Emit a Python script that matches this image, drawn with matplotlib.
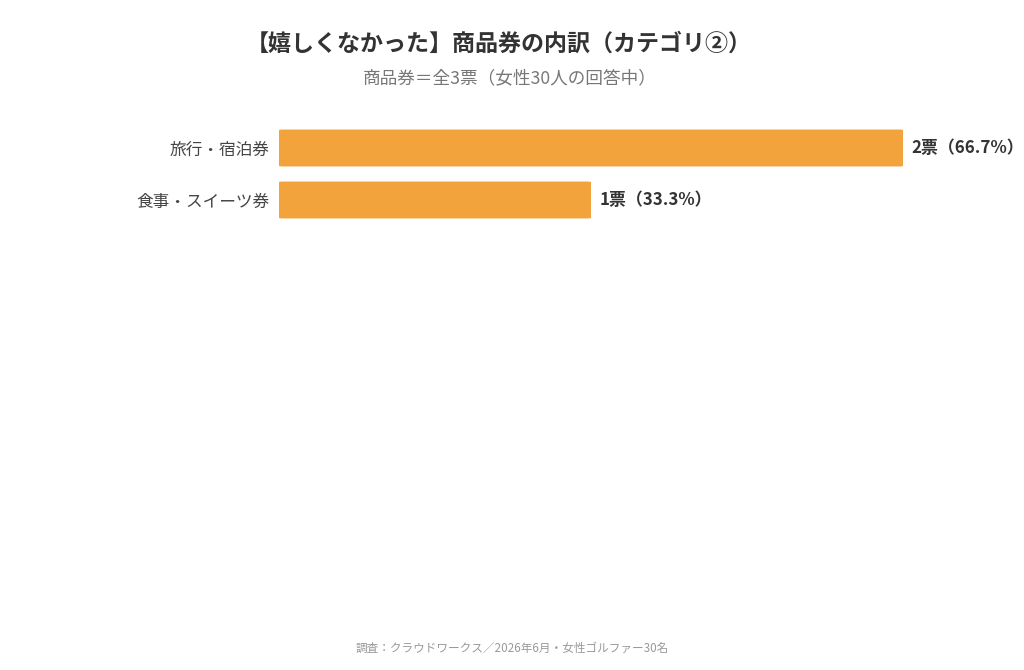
import matplotlib
matplotlib.use("Agg")
import matplotlib.pyplot as plt
from matplotlib.patches import FancyBboxPatch

plt.rcParams['font.family'] = ['Noto Sans CJK JP', 'DejaVu Sans']

categories = ['旅行・宿泊券', '食事・スイーツ券']
votes = [2, 1]
pcts = [66.7, 33.3]
bar_color = '#F2A33C'

fig = plt.figure(figsize=(10.24, 6.7), dpi=100)
W, H = 1024, 670
# axes box in pixels: x 279..903, y 122..226 (from top)
ax = fig.add_axes([279 / W, 1 - 226 / H, 624 / W, 104 / H])

bars = ax.barh(range(len(categories)), votes, height=0.71, color=bar_color)
ax.set_xlim(0, 2)
ax.set_ylim(1.5, -0.5)

# swap plain bars for slightly rounded ones
for b in bars:
    x, y = b.get_x(), b.get_y()
    w, h = b.get_width(), b.get_height()
    b.set_visible(False)
    r = FancyBboxPatch((x, y), w, h, boxstyle='round,pad=0,rounding_size=0.012',
                       mutation_aspect=1.0,
                       facecolor=bar_color, edgecolor='none')
    ax.add_patch(r)

for i, (v, p) in enumerate(zip(votes, pcts)):
    ax.text(v + 0.028, i, f'{v}票（{p}%）', va='center', ha='left',
            fontsize=12.2, fontweight='bold', color='#333333', clip_on=False)

ax.set_yticks(range(len(categories)))
ax.set_yticklabels(categories, fontsize=12, color='#444444')
ax.tick_params(axis='y', length=0, pad=7)
ax.set_xticks([])
for s in ax.spines.values():
    s.set_visible(False)

fig.text(0.487, 1 - 44 / H, '【嬉しくなかった】商品券の内訳（カテゴリ②）',
         ha='center', va='center', fontsize=16.6, fontweight='bold', color='#333333')
fig.text(0.498, 1 - 78 / H, '商品券＝全3票（女性30人の回答中）',
         ha='center', va='center', fontsize=12.7, color='#777777')
fig.text(0.5, 1 - 648 / H, '調査：クラウドワークス／2026年6月・女性ゴルファー30名',
         ha='center', va='center', fontsize=8.4, color='#999999')

fig.savefig('out.png', dpi=100, facecolor='white')
